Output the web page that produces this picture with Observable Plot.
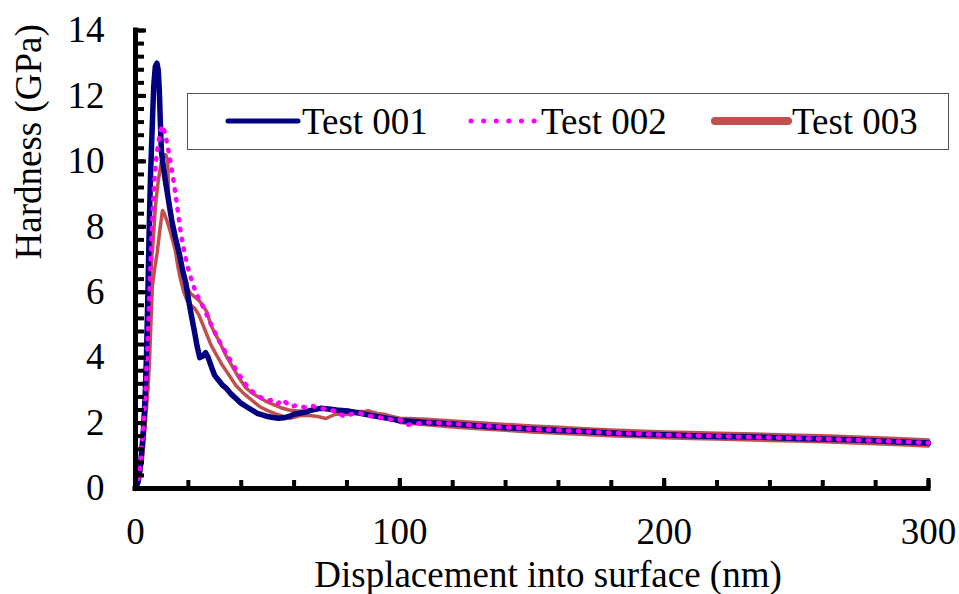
<!DOCTYPE html>
<html>
<head>
<meta charset="utf-8">
<script src="https://cdn.jsdelivr.net/npm/d3@7"></script>
<script src="https://cdn.jsdelivr.net/npm/@observablehq/plot@0.6"></script>
<style>
  html, body { margin: 0; padding: 0; background: #fff; }
  #wrap { position: relative; width: 959px; height: 594px; overflow: hidden; font-family: "Liberation Serif", "Times New Roman", serif; }
  #legend { position: absolute; left: 187px; top: 93px; width: 762px; height: 57px; box-sizing: border-box; border: 1.5px solid #555; background: #fff; }
  #legend .item { position: absolute; top: 0; height: 54px; display: flex; align-items: center; }
  #legend span { font-size: 37px; color: #000; line-height: 1; }
</style>
</head>
<body>
<div id="wrap"><div id="legend"></div></div>
<script>
// ---- Data ----
const seriesNames = ["Test 001", "Test 002", "Test 003"];
const seriesColors = ["#000080", "#FF00FF", "#C0504D"];
const xTickLabels = [0, 100, 200, 300];
const yTickLabels = [0, 2, 4, 6, 8, 10, 12, 14];
const xLabel = "Displacement into surface (nm)";
const yLabel = "Hardness (GPa)";

// Test 001 [displacement nm, hardness GPa]
const test001 = [[0,0],[1,0.2],[2,0.8],[3,1.8],[3.6,2.7],[4.2,4.2],[4.7,6.0],[5.2,8.0],[5.7,9.6],[6.3,11.0],[6.9,12.3],[7.5,12.9],[8.1,13.0],[8.6,12.8],[9.0,12.2],[9.4,11.2],[9.8,10.3],[10.6,9.8],[11.5,9.3],[12.5,8.8],[13.7,8.2],[15.0,7.7],[16.5,7.2],[18.0,6.6],[19.0,6.3],[20.0,5.8],[21.0,5.35],[22.3,4.8],[23.3,4.35],[24.3,4.0],[25.5,4.05],[26.5,4.15],[27.5,4.0],[28.8,3.7],[30.0,3.45],[31.5,3.3],[33.0,3.15],[34.5,3.05],[36.0,2.9],[38.0,2.75],[40.0,2.6],[42.0,2.5],[44.0,2.4],[46.0,2.3],[48.0,2.25],[50.0,2.2],[52.0,2.17],[54.0,2.15],[56.0,2.16],[58.0,2.2],[60.0,2.27],[62.0,2.3],[64.0,2.33],[66.0,2.38],[68.0,2.42],[70.0,2.45],[73,2.43],[76,2.4],[80,2.37],[85,2.3],[90,2.22],[95,2.15],
  [100,2.08],[110,2.02],[120,1.97],[130,1.91],[140,1.86],[150,1.82],[160,1.77],[170,1.74],[180,1.70],[190,1.66],[200,1.64],[210,1.61],[220,1.59],[230,1.58],[240,1.56],[250,1.53],[260,1.51],[270,1.49],[280,1.46],[290,1.42],[300,1.39]];

// Test 002
const test002 = [[0,0],[1,0.2],[2,0.8],[3,1.9],[3.8,3.0],[4.5,4.3],[5.3,6.0],[6.0,7.6],[6.8,9.0],[7.6,9.9],[8.5,10.5],[9.3,10.9],[10.2,11.1],[11.0,10.9],[11.8,10.6],[12.8,10.2],[13.8,9.7],[14.8,9.2],[15.8,8.6],[16.8,8.0],[17.8,7.5],[18.8,7.1],[20,6.7],[21.5,6.3],[23,5.95],[25,5.65],[27,5.3],[29,4.95],[31,4.6],[33.5,4.25],[36,3.9],[39,3.5],[42,3.15],[45,2.9],[48,2.75],[50,2.68],[52,2.72],[54,2.6],[55.5,2.72],[57,2.62],[59,2.5],[61,2.55],[63,2.5],[65,2.47],[67,2.52],[70,2.45],[73,2.42],[76,2.35],[79,2.2],[82,2.28],[85,2.3],[88,2.22],[91,2.2],[95,2.12],
  [100,2.1],[103,1.95],[110,2.02],[120,1.98],[130,1.92],[140,1.87],[150,1.82],[160,1.78],[170,1.74],[180,1.70],[190,1.67],[200,1.64],[210,1.62],[220,1.60],[230,1.58],[240,1.56],[250,1.54],[260,1.52],[270,1.49],[280,1.46],[290,1.43],[300,1.39]];

// Test 003 (two traces drawn in the same colour)
const test003a = [[0,0],[1,0.25],[2,0.9],[3,2.1],[3.6,3.0],[4.2,4.0],[4.8,5.0],[5.4,6.0],[6.1,7.0],[6.8,7.7],[7.5,8.6],[8.6,9.4],[9.9,10.05],[10.6,10.2],[11.5,10.2],[12.2,10.0],[12.5,9.0],[13.1,8.5],[14.0,7.9],[15.2,7.5],[16.5,7.1],[17.6,6.75],[18.6,6.45],[19.8,6.1],[21,5.95],[22.5,5.85],[24,5.75],[25.5,5.6],[27,5.4],[28.5,5.0],[30,4.75],[32,4.45],[34,4.1],[36.5,3.75],[39,3.4],[41.5,3.1],[44,2.92],[46.5,2.8],[49,2.68],[52,2.57],[55,2.47],[58,2.4],[61,2.37],[64,2.38],[67,2.4],[70,2.43],[73.5,2.42],[77,2.38],[80,2.4],[83,2.36],[86,2.35],[90,2.3],[94,2.27],[97,2.2],
  [100,2.15],[110,2.12],[120,2.06],[130,2.01],[140,1.96],[150,1.91],[160,1.87],[170,1.83],[180,1.79],[190,1.76],[200,1.73],[210,1.71],[220,1.69],[230,1.67],[240,1.65],[250,1.63],[260,1.61],[270,1.58],[280,1.55],[290,1.52],[300,1.48]];
const test003b = [[0,0],[1,0.15],[2,0.5],[3,1.2],[4,2.3],[4.7,3.0],[5.3,3.9],[5.8,5.0],[6.4,6.2],[7.2,6.7],[8.2,7.2],[9.2,7.9],[10.2,8.5],[10.9,8.4],[11.8,8.2],[13,7.9],[14,7.6],[15,7.3],[16,6.8],[17,6.4],[18.3,6.0],[19.5,5.75],[21,5.6],[22.5,5.5],[24,5.3],[25.5,5.0],[27,4.7],[28.5,4.4],[30.5,4.1],[33,3.75],[35.5,3.45],[38,3.15],[41,2.9],[44,2.7],[47,2.5],[50,2.38],[53,2.28],[56,2.2],[59,2.15],[62,2.22],[65,2.24],[69,2.2],[72,2.14],[76,2.28],[80,2.27],[84,2.3],[88,2.38],[91,2.3],[94,2.17],[97,2.12],
  [100,2.02],[110,1.95],[120,1.88],[130,1.83],[140,1.78],[150,1.73],[160,1.69],[170,1.65],[180,1.61],[190,1.58],[200,1.55],[210,1.53],[220,1.51],[230,1.49],[240,1.47],[250,1.45],[260,1.43],[270,1.40],[280,1.37],[290,1.34],[300,1.30]];

// ---- Chart ----
const toRows = (arr) => arr.map(([x, y]) => ({x, y}));
const xMinor = d3.range(0, 301, 20);
const xMajor = xTickLabels;
const yMinor = d3.range(0, 14.001, 0.4).map(v => +v.toFixed(1));
const yMajor = yTickLabels;

const chart = Plot.plot({
  width: 959,
  height: 594,
  marginLeft: 135,
  marginRight: 31,
  marginTop: 30,
  marginBottom: 106,
  x: {domain: [0, 300], label: null},
  y: {domain: [0, 14], label: null},
  style: {fontFamily: "'Liberation Serif', 'Times New Roman', serif", fontSize: "36px", color: "#000", background: "#fff", overflow: "visible"},
  marks: [
    Plot.line(toRows(test003b), {x: "x", y: "y", stroke: seriesColors[2], strokeWidth: 3.5, strokeLinejoin: "round"}),
    Plot.line(toRows(test003a), {x: "x", y: "y", stroke: seriesColors[2], strokeWidth: 3.5, strokeLinejoin: "round"}),
    Plot.line(toRows(test001), {x: "x", y: "y", stroke: seriesColors[0], strokeWidth: 5.5, strokeLinejoin: "round"}),
    Plot.line(toRows(test002), {x: "x", y: "y", stroke: seriesColors[1], strokeWidth: 4.5, strokeDasharray: "1.5,8.5", strokeLinecap: "round", strokeLinejoin: "round"}),
    // tick labels
    Plot.axisX({ticks: xMajor, tickSize: 0, tickPadding: 29, tickFormat: d => String(d), label: null, fontSize: 37}),
    Plot.axisY({ticks: yMajor, tickSize: 0, tickPadding: 31, tickFormat: d => String(d), label: null, fontSize: 37}),
    // inward ticks
    Plot.axisX({ticks: xMinor, tickSize: 8, dy: -8, fill: "none", label: null, strokeWidth: 4}),
    Plot.axisX({ticks: xMajor, tickSize: 10, dy: -10, fill: "none", label: null, strokeWidth: 4}),
    Plot.axisY({ticks: yMinor, tickSize: 9, dx: 9, fill: "none", label: null, strokeWidth: 4}),
    Plot.axisY({ticks: yMajor, tickSize: 11, dx: 11, fill: "none", label: null, strokeWidth: 4}),
    // axis lines
    Plot.ruleX([0], {stroke: "#000", strokeWidth: 5, strokeLinecap: "square"}),
    Plot.ruleY([0], {stroke: "#000", strokeWidth: 5, strokeLinecap: "square"}),
    // axis titles
    Plot.text([yLabel], {text: d => d, frameAnchor: "left", dx: -106, rotate: -90, fontSize: 37, fill: "#000"}),
    Plot.text([xLabel], {text: d => d, frameAnchor: "bottom", dx: 16, dy: 98, fontSize: 37, fill: "#000"})
  ]
});
document.getElementById("wrap").prepend(chart);

// ---- Legend (overlaid inside plot area, as in the reference) ----
const legend = document.getElementById("legend");
const legendItems = [
  {name: seriesNames[0], color: seriesColors[0], left: 36, sw: 70, width: 5, dash: null},
  {name: seriesNames[1], color: seriesColors[1], left: 279, sw: 66, width: 5, dash: "0.1,12.5"},
  {name: seriesNames[2], color: seriesColors[2], left: 523, sw: 73, width: 8, dash: null}
];
for (const it of legendItems) {
  const div = document.createElement("div");
  div.className = "item";
  div.style.left = it.left + "px";
  const ns = "http://www.w3.org/2000/svg";
  const svg = document.createElementNS(ns, "svg");
  svg.setAttribute("width", it.sw + 8);
  svg.setAttribute("height", 20);
  const ln = document.createElementNS(ns, "line");
  ln.setAttribute("x1", 4); ln.setAttribute("x2", it.sw + 4);
  ln.setAttribute("y1", 10); ln.setAttribute("y2", 10);
  ln.setAttribute("stroke", it.color);
  ln.setAttribute("stroke-width", it.width);
  ln.setAttribute("stroke-linecap", "round");
  if (it.dash) ln.setAttribute("stroke-dasharray", it.dash);
  svg.appendChild(ln);
  const sp = document.createElement("span");
  sp.textContent = it.name;
  div.appendChild(svg);
  div.appendChild(sp);
  legend.appendChild(div);
}
</script>
</body>
</html>
